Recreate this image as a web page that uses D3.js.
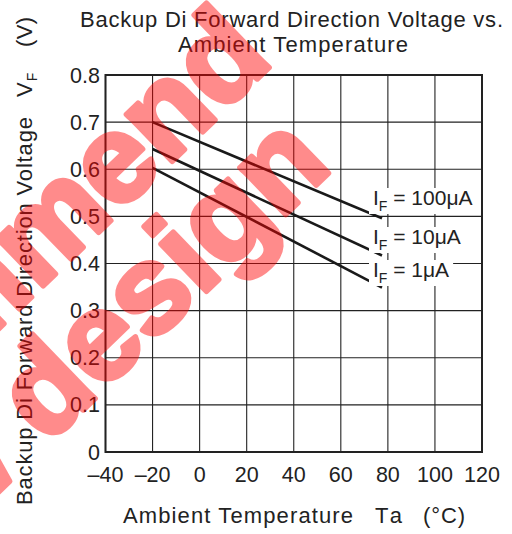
<!DOCTYPE html>
<html><head><meta charset="utf-8">
<script src="https://cdn.jsdelivr.net/npm/d3@7"></script>
<style>body{margin:0;background:#fff}svg{display:block}text{font-family:"Liberation Sans",Arial,sans-serif}</style>
</head><body><svg id="c" width="512" height="534"></svg>
<script>
const xTicks = [-40,-20,0,20,40,60,80,100,120];
const yTicks = [0,0.1,0.2,0.3,0.4,0.5,0.6,0.7,0.8];
const series = [
  {label:"100\u03bcA", x:[-20,77.5], y:[0.700,0.496], ly:205},
  {label:"10\u03bcA",  x:[-20,77.5], y:[0.643,0.417], ly:244},
  {label:"1\u03bcA",   x:[-20,77.5], y:[0.603,0.349], ly:277}
];
const watermark = ["Not Recommend", "for new design"];
const svg = d3.select("#c");
const x = d3.scaleLinear().domain([-40,120]).range([105.5,482]);
const y = d3.scaleLinear().domain([0,0.8]).range([452,75]);
const ink = "#222";

// grid
svg.append("g").selectAll("line").data(xTicks).join("line")
  .attr("x1",d=>x(d)).attr("x2",d=>x(d)).attr("y1",y(0)).attr("y2",y(0.8))
  .attr("stroke",ink).attr("stroke-width",1.1);
svg.append("g").selectAll("line").data(yTicks).join("line")
  .attr("y1",d=>y(d)).attr("y2",d=>y(d)).attr("x1",x(-40)).attr("x2",x(120))
  .attr("stroke",ink).attr("stroke-width",1.1);
svg.append("rect").attr("x",x(-40)).attr("y",y(0.8)).attr("width",x(120)-x(-40)).attr("height",y(0)-y(0.8))
  .attr("fill","none").attr("stroke",ink).attr("stroke-width",2);

// lines
const line = d3.line().x(d=>x(d[0])).y(d=>y(d[1]));
svg.append("g").selectAll("path").data(series).join("path")
  .attr("d",s=>line(s.x.map((v,i)=>[v,s.y[i]])))
  .attr("fill","none").attr("stroke","#1a1a1a").attr("stroke-width",2.6);

// legend labels
series.forEach(s=>{
  const t = svg.append("text").attr("x",373).attr("y",s.ly).attr("font-size",21).attr("fill",ink);
  t.append("tspan").text("I");
  t.append("tspan").attr("font-size",14).attr("dy",6).text("F");
  t.append("tspan").attr("dy",-6).text(" = "+s.label);
  const b = t.node().getBBox();
  svg.insert("rect", () => t.node()).attr("x",b.x-4).attr("y",b.y+2).attr("width",b.width+8).attr("height",b.height-2).attr("fill","#fff");
});

// axes tick labels
svg.append("g").selectAll("text").data(yTicks).join("text")
  .attr("x",100).attr("y",d=>y(d)+7.5).attr("text-anchor","end").attr("font-size",21.5).attr("fill",ink)
  .text(d=>d===0?"0":d.toFixed(1));
svg.append("g").selectAll("text").data(xTicks).join("text")
  .attr("x",d=>x(d)).attr("y",482).attr("text-anchor","middle").attr("font-size",21.5).attr("fill",ink)
  .text(d=>d<0?"\u2013"+Math.abs(d):d);

// titles
const fs = 22;
svg.append("text").attr("x",80).attr("y",27).attr("font-size",fs).attr("fill",ink)
  .attr("textLength",423).attr("lengthAdjust","spacing").text("Backup Di Forward Direction Voltage vs.");
svg.append("text").attr("x",178).attr("y",52).attr("font-size",fs).attr("fill",ink)
  .attr("textLength",230).attr("lengthAdjust","spacing").text("Ambient Temperature");
const xl = svg.append("g").attr("font-size",fs).attr("fill",ink);
xl.append("text").attr("x",123).attr("y",523).attr("textLength",230).attr("lengthAdjust","spacing").text("Ambient Temperature");
xl.append("text").attr("x",375).attr("y",523).attr("textLength",27).attr("lengthAdjust","spacing").text("Ta");
xl.append("text").attr("x",423).attr("y",523).attr("textLength",42).attr("lengthAdjust","spacing").text("(\u00b0C)");
const yl = svg.append("g").attr("transform","translate(32,505) rotate(-90)").attr("font-size",fs).attr("fill",ink);
yl.append("text").attr("x",0).attr("y",0).attr("textLength",388).attr("lengthAdjust","spacing").text("Backup Di Forward Direction Voltage");
const vf = yl.append("text").attr("x",408).attr("y",0);
vf.append("tspan").text("V");
vf.append("tspan").attr("font-size",14).attr("dy",5).attr("dx",1).text("F");
yl.append("text").attr("x",458).attr("y",0).attr("textLength",30).attr("lengthAdjust","spacing").text("(V)");

// watermark
const wm = svg.append("g").attr("opacity",0.45).attr("fill","#ff0000").attr("stroke","#ff0000")
  .attr("stroke-width",5.5).attr("stroke-linejoin","round")
  .attr("font-weight","bold").attr("font-size",124);
wm.append("text").attr("text-anchor","end").attr("transform","translate(275,62) rotate(-44)").text(watermark[0]);
wm.append("text").attr("text-anchor","end").attr("transform","translate(334,168) rotate(-44)").text(watermark[1]);
</script></body></html>
